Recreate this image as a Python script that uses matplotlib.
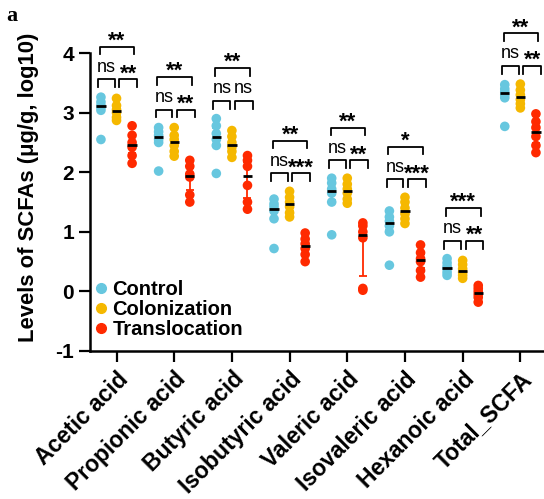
import numpy as np
import matplotlib.pyplot as plt
from matplotlib.lines import Line2D

plt.rcParams['font.family'] = ['Liberation Sans', 'DejaVu Sans']
plt.rcParams['axes.unicode_minus'] = False

acids = ["Acetic acid", "Propionic acid", "Butyric acid", "Isobutyric acid",
         "Valeric acid", "Isovaleric acid", "Hexanoic acid", "Total_SCFA"]
groups = ["Control", "Colonization", "Translocation"]
colors = ["#67C7DF", "#F5B800", "#FF2A00"]

# log10 levels, one list per acid, per group
control = [
    [3.26, 3.18, 3.12, 3.09, 3.04, 2.55],
    [2.75, 2.68, 2.62, 2.55, 2.50, 2.02],
    [2.90, 2.78, 2.65, 2.55, 2.45, 1.98],
    [1.55, 1.47, 1.42, 1.35, 1.22, 0.72],
    [1.90, 1.82, 1.72, 1.65, 1.50, 0.95],
    [1.35, 1.25, 1.18, 1.10, 1.00, 0.44],
    [0.55, 0.48, 0.42, 0.38, 0.32, 0.27],
    [3.47, 3.40, 3.35, 3.30, 3.25, 2.77],
]
colonization = [
    [3.24, 3.12, 3.05, 3.00, 2.92, 2.87],
    [2.75, 2.62, 2.55, 2.45, 2.35, 2.27],
    [2.70, 2.60, 2.50, 2.42, 2.35, 2.25],
    [1.68, 1.58, 1.50, 1.42, 1.32, 1.25],
    [1.90, 1.80, 1.72, 1.65, 1.55, 1.48],
    [1.58, 1.50, 1.40, 1.30, 1.22, 1.14],
    [0.52, 0.45, 0.38, 0.32, 0.27, 0.22],
    [3.48, 3.38, 3.30, 3.22, 3.15, 3.08],
]
translocation = [
    [2.78, 2.62, 2.50, 2.42, 2.28, 2.15],
    [2.20, 2.10, 1.97, 1.92, 1.62, 1.50],
    [2.28, 2.20, 2.10, 1.78, 1.50, 1.38],
    [0.98, 0.88, 0.80, 0.72, 0.62, 0.50],
    [1.15, 1.10, 1.00, 0.90, 0.05, 0.02],
    [0.78, 0.65, 0.55, 0.50, 0.35, 0.24],
    [0.10, 0.05, 0.00, -0.05, -0.10, -0.18],
    [2.98, 2.85, 2.75, 2.60, 2.45, 2.33],
]

# significance: control-colonization, colonization-translocation, control-translocation
sig_cc = ["ns", "ns", "ns", "ns", "ns", "ns", "ns", "ns"]
sig_ct = ["**", "**", "ns", "***", "**", "***", "**", "**"]
sig_big = ["**", "**", "**", "**", "**", "*", "***", "**"]

fig = plt.figure(figsize=(5.44, 4.99), dpi=100)
ax = fig.add_axes([0.1654, 0.2966, 0.8346, 0.597])

x = np.arange(len(acids))
offs = [-0.27, 0.0, 0.27]
all_data = [control, colonization, translocation]

# median with interquartile range
for g in range(3):
    for i in range(len(acids)):
        vals = np.array(all_data[g][i])
        xi = x[i] + offs[g]
        q1, med, q3 = np.percentile(vals, [25, 50, 75])
        ax.errorbar(xi, med, yerr=[[med - q1], [q3 - med]], color=colors[g],
                    capsize=3, elinewidth=1.3, capthick=1.3, zorder=2)
        ax.scatter(np.full(len(vals), xi), vals, s=48, color=colors[g],
                   edgecolors='none', zorder=3, clip_on=False)
        ax.hlines(med, xi - 0.08, xi + 0.08, color='black', lw=2, zorder=4)


def bracket(x1, x2, top, label):
    leg = 0.13
    ax.plot([x1, x1, x2, x2], [top - leg, top, top, top - leg], color='black',
            lw=1.3, clip_on=False, zorder=5)
    xm = (x1 + x2) / 2
    if label == "ns":
        ax.text(xm, top + 0.13, label, ha='center', va='baseline', fontsize=13,
                clip_on=False)
    else:
        ax.text(xm, top + 0.0, label, ha='center', va='baseline', fontsize=16,
                fontweight='bold', clip_on=False)


for i in range(len(acids)):
    hi = max(max(control[i]), max(colonization[i]), max(translocation[i]))
    small = hi + 0.3
    big = small + 0.55
    xc, xo, xt = x[i] + offs[0], x[i] + offs[1], x[i] + offs[2]
    bracket(xc - 0.05, xo - 0.03, small, sig_cc[i])
    bracket(xo + 0.05, xt + 0.09, small, sig_ct[i])
    bracket(xc - 0.02, xt + 0.04, big, sig_big[i])

ax.set_xlim(-0.46, 7.41)
ax.set_ylim(-1, 4)
ax.set_yticks([-1, 0, 1, 2, 3, 4])
ax.set_xticks(x)
ax.set_xticklabels(acids, rotation=45, ha='right', rotation_mode='anchor',
                   fontsize=16.5, fontweight='bold')
for lab in ax.get_yticklabels():
    lab.set_fontsize(15)
    lab.set_fontweight('bold')
ax.tick_params(width=1.6, length=8)
ax.tick_params(axis='x', pad=4)
ax.spines['top'].set_visible(False)
ax.spines['right'].set_visible(False)
ax.spines['left'].set_linewidth(1.8)
ax.spines['bottom'].set_linewidth(1.8)
ax.set_ylabel("Levels of SCFAs (μg/g, log10)", fontsize=15.8, fontweight='bold')
ax.yaxis.set_label_coords(-0.112, 0.55)

handles = [Line2D([], [], marker='o', ls='', color=c, markersize=7) for c in colors]
ax.legend(handles, groups, loc='lower left', bbox_to_anchor=(-0.015, 0.0),
          frameon=False, handlelength=0.6, handletextpad=0.25, labelspacing=0.05,
          borderaxespad=0.2, prop={'size': 14.5, 'weight': 'bold'})

fig.text(0.012, 0.988, "a", fontsize=16, fontweight='bold', family='Liberation Serif',
         va='top')

fig.savefig("out.png", dpi=100)
